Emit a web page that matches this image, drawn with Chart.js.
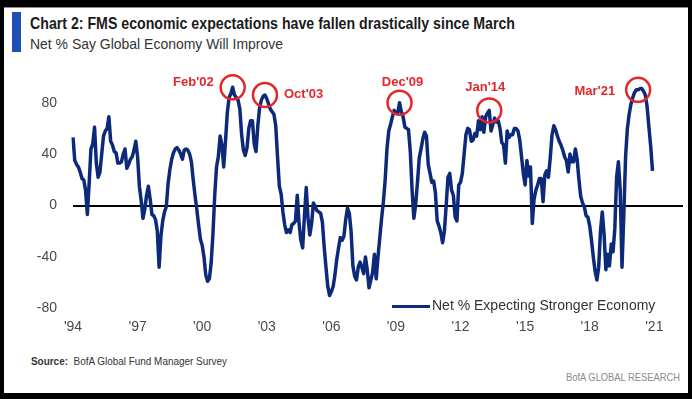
<!DOCTYPE html>
<html>
<head>
<meta charset="utf-8">
<script src="https://cdn.jsdelivr.net/npm/chart.js@4.4.0/dist/chart.umd.min.js"></script>
<style>
  html, body { margin: 0; padding: 0; background: #000; }
  #frame { position: relative; width: 692px; height: 399px; overflow: hidden; background: #000; }
  #panel { position: absolute; left: 4px; top: 7px; width: 684px; height: 385px; background: #fff; border-top: 1px solid #8a8a8a; }
  #bar { position: absolute; left: 12px; top: 12px; width: 9px; height: 40px; background: #1f4fb4; }
  .fit { position: absolute; white-space: nowrap; font-family: "Liberation Sans", Arial, sans-serif; transform-origin: 0 50%; }
  #title { left: 30px; top: 14px; font-size: 16.5px; font-weight: bold; color: #1b1b1b; }
  #subtitle { left: 30px; top: 35px; font-size: 15px; color: #333; }
  #source { left: 31px; top: 355px; font-size: 11px; color: #333; }
  #brand { left: 566px; top: 371px; font-size: 11px; color: #8a8a8a; }
  #legend { position: absolute; left: 392px; top: 297px; height: 18px; white-space: nowrap; font-family: "Liberation Sans", Arial, sans-serif; font-size: 14px; color: #333; }
  #legend span.swatch { display: inline-block; width: 38px; height: 3px; background: #0d2a7a; vertical-align: middle; margin-right: 2px; }
  #wrap { position: absolute; left: 0; top: 0; width: 692px; height: 399px; }
</style>
</head>
<body>
<div id="frame">
  <div id="panel"></div>
  <div id="bar"></div>
  <div id="title" class="fit" data-w="485">Chart 2: FMS economic expectations have fallen drastically since March</div>
  <div id="subtitle" class="fit" data-w="253">Net % Say Global Economy Will Improve</div>
  <div id="source" class="fit" data-w="196"><b>Source:</b>&nbsp; BofA Global Fund Manager Survey</div>
  <div id="brand" class="fit" data-w="114">BofA GLOBAL RESEARCH</div>
  <div id="wrap"><canvas id="mycanvas"></canvas></div>
  <div id="legend"><span class="swatch"></span>Net % Expecting Stronger Economy</div>
</div>
<script>
// monthly FMS reading, net % expecting a stronger global economy, from Oct 1994
var startYear = 1994;
var startMonth = 10;
var netStronger = [
	53, 35, 32, 30, 26, 21, 20, 12, -7, 17, 44, 48,
	61, 33, 22, 26, 40, 54, 58, 60, 69, 50, 47, 42,
	41, 33, 33, 34, 40, 44, 29, 32, 36, 38, 43, 50,
	38, 15, 4, -10, -3, 8, 15, 5, -7, -8, -11, -20,
	-48, -24, -12, -5, -1, 17, 28, 36, 41, 44, 45, 43,
	40, 36, 43, 44, 43, 40, 34, 20, 8, -3, -15, -26,
	-31, -40, -54, -59, -57, -45, -22, 8, 30, 38, 54, 47,
	30, 50, 72, 84, 87, 92, 86, 84, 82, 75, 55, 43,
	39, 45, 60, 66, 66, 48, 42, 62, 76, 82, 85, 86,
	83, 79, 75, 73, 71, 62, 38, 15, 9, -5, -15, -21,
	-19, -21, -15, -14, -12, 8, -14, -27, -33, -8, 14, -10,
	-23, -14, 2, -1, -4, -5, -6, -13, -32, -48, -63, -70,
	-67, -63, -54, -42, -33, -25, -27, -24, -11, -2, -6, -20,
	-47, -55, -58, -48, -44, -48, -53, -40, -50, -64, -58, -52,
	-38, -57, -40, -25, -10, 3, 20, 44, 58, 63, 69, 74,
	72, 72, 80, 73, 69, 61, 60, 59, 42, 12, -10, 1,
	18, 37, 44, 52, 57, 54, 32, 25, 18, 19, 10, -12,
	-16, -21, -29, -20, 0, 22, 25, 12, 8, -9, -12, 16,
	18, 25, 40, 55, 60, 59, 50, 51, 56, 54, 66, 59,
	69, 57, 69, 72, 74, 58, 63, 68, 65, 66, 60, 49,
	47, 33, 58, 53, 55, 55, 60, 60, 58, 51, 38, 25,
	16, 35, 23, 30, -14, 5, 12, 16, 21, 21, 3, 24,
	27, 22, 37, 55, 62, 59, 54, 50, 47, 43, 38, 35,
	26, 40, 34, 34, 44, 36, 20, 7, 2, -1, -8, -9,
	-16, -27, -40, -51, -58, -48, -20, -5, -22, -50, -38, -47,
	-30, -36, -18, 22, 34, 12, -48, -8, 38, 60, 71, 79,
	84, 88, 90, 90, 91, 91, 89, 86, 77, 61, 46, 27
];
var xTickLabels = ["'94", "'97", "'00", "'03", "'06", "'09", "'12", "'15", "'18", "'21"];
var yTicks = [-80, -40, 0, 40, 80];
var peakIndex = [89, 107, 182, 232, 315];
var peakText = ["Feb'02", "Oct'03", "Dec'09", "Jan'14", "Mar'21"];

// squeeze the header/footer text to the condensed widths of the original
var fits = document.querySelectorAll('.fit');
for (var f = 0; f < fits.length; f++) {
	var w = fits[f].getBoundingClientRect().width;
	fits[f].style.transform = 'scaleX(' + (parseFloat(fits[f].getAttribute('data-w')) / w) + ')';
}

// axis runs a bit past the last reading
var months = [];
for (var i = 0; i < 341; i++) {
	var mm = startMonth - 1 + i;
	months.push((startYear + Math.floor(mm / 12)) + '-' + ((mm % 12) + 1));
}

// where each red label sits next to its circle
var peakLabelPos = [
	{ dx: -19, dy: -5, align: 'right' },
	{ dx: 19, dy: -1, align: 'left' },
	{ dx: 3, dy: -20, align: 'center' },
	{ dx: -4, dy: -23, align: 'center' },
	{ dx: -23, dy: 2, align: 'right' }
];

var peakCircles = {
	id: 'peakCircles',
	afterDatasetsDraw: function(chart) {
		var ctx = chart.ctx;
		var xs = chart.scales.x, ys = chart.scales.y;
		ctx.save();
		for (var i = 0; i < peakIndex.length; i++) {
			var cx = xs.getPixelForValue(peakIndex[i]);
			var cy = ys.getPixelForValue(netStronger[peakIndex[i]]);
			ctx.beginPath();
			ctx.arc(cx, cy, 12, 0, Math.PI * 2);
			ctx.lineWidth = 2.5;
			ctx.strokeStyle = '#e3262b';
			ctx.stroke();
			ctx.fillStyle = '#e3262b';
			ctx.font = 'bold 13px "Liberation Sans", Arial, sans-serif';
			ctx.textAlign = peakLabelPos[i].align;
			ctx.textBaseline = 'middle';
			ctx.fillText(peakText[i], cx + peakLabelPos[i].dx, cy + peakLabelPos[i].dy);
		}
		ctx.restore();
	}
};

var tickFont = { family: '"Liberation Sans", Arial, sans-serif', size: 14 };

var ctx = document.getElementById('mycanvas');
var lineChart = new Chart(ctx, {
	type: 'line',
	data: {
		labels: months,
		datasets: [{
			label: 'Net % Expecting Stronger Economy',
			data: netStronger,
			borderColor: '#0d2a7a',
			borderWidth: 3.5,
			borderJoinStyle: 'round',
			pointRadius: 0,
			fill: false,
			tension: 0
		}]
	},
	options: {
		responsive: true,
		maintainAspectRatio: false,
		animation: false,
		layout: { padding: { left: 0, right: 9, top: 77, bottom: 0 } },
		plugins: {
			legend: { display: false },
			tooltip: { enabled: false }
		},
		scales: {
			x: {
				grid: { display: false, drawTicks: false },
				border: { display: false },
				ticks: {
					autoSkip: false,
					maxRotation: 0,
					padding: 10,
					color: '#4a4a4a',
					font: tickFont,
					callback: function(value, index) {
						return index % 36 === 0 ? xTickLabels[index / 36] : null;
					}
				},
				afterFit: function(scale) { scale.height = 90.7; }
			},
			y: {
				min: -80,
				max: 100,
				afterBuildTicks: function(scale) {
					scale.ticks = yTicks.map(function(v) { return { value: v }; });
				},
				grid: {
					drawTicks: false,
					color: function(c) { return c.tick && c.tick.value === 0 ? '#000' : 'rgba(0,0,0,0)'; },
					lineWidth: 2
				},
				border: { display: false },
				ticks: { padding: 16, color: '#4a4a4a', font: tickFont },
				afterFit: function(scale) { scale.width = 73; }
			}
		}
	},
	plugins: [peakCircles]
});
</script>
</body>
</html>
